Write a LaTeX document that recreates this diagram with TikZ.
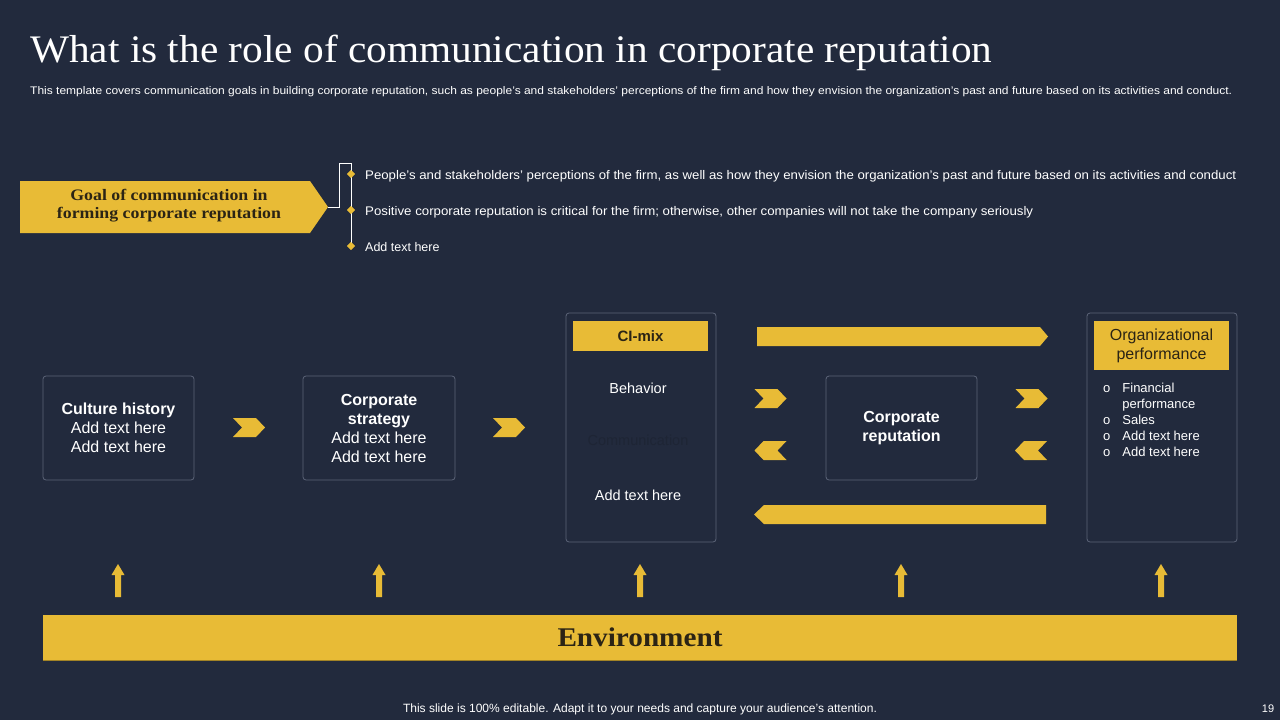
\documentclass[tikz,border=0pt]{standalone}
\usepackage{fontspec}
\usepackage{graphicx}
\setmainfont{Liberation Sans}
\newfontfamily\serifff{Liberation Serif}
\usetikzlibrary{shapes.geometric,calc}
\definecolor{bg}{HTML}{222A3D}
\definecolor{gold}{HTML}{E8BB36}
\definecolor{edge}{HTML}{5C6478}
\definecolor{ink}{HTML}{2B2415}
\definecolor{hid}{HTML}{1E2535}
\newcommand\fitto[2]{\resizebox{#1}{\height}{#2}}
\tikzset{
  box/.style={draw=edge, line width=0.8pt, rounded corners=3pt, fill=bg, align=center, text=white,
    font=\fontsize{16}{19}\selectfont, inner sep=0pt},
  headbox/.style={fill=gold, text=ink, align=center, inner sep=0pt},
  bul/.style={fill=gold, diamond, inner sep=0pt, minimum size=8pt},
  txt/.style={text=white, anchor=base west, inner sep=0pt, font=\fontsize{12.5}{15}\selectfont},
  plain/.style={text=white, inner sep=0pt, align=center},
  chevr/.pic={\fill[gold] (-16,-9.5) -- (7,-9.5) -- (16,0) -- (7,9.5) -- (-16,9.5) -- (-7,0) -- cycle;},
  chevl/.pic={\fill[gold] (16,-9.5) -- (-7,-9.5) -- (-16,0) -- (-7,9.5) -- (16,9.5) -- (7,0) -- cycle;},
  uparrow/.pic={\fill[gold] (-3,0) -- (-3,-22) -- (-6.5,-22) -- (0,-33) -- (6.5,-22) -- (3,-22) -- (3,0) -- cycle;},
}
\begin{document}
\begin{tikzpicture}[x=1pt,y=-1pt]
\fill[bg] (0,0) rectangle (1280,720);
\useasboundingbox (0,0) rectangle (1280,720);

% title
\node[anchor=base west, inner sep=0pt, text=white, font=\serifff\fontsize{39}{44}\selectfont] (title) at (30,62)
  {\fitto{962pt}{What is the role of communication in corporate reputation}};
\node[anchor=base west, inner sep=0pt, text=white, font=\fontsize{11}{13}\selectfont] (sub) at (30,94)
  {\fitto{1202pt}{This template covers communication goals in building corporate reputation, such as people's and stakeholders' perceptions of the firm and how they envision the organization's past and future based on its activities and conduct.}};

% goal arrow
\fill[gold] (20,181) -- (310,181) -- (328,207) -- (310,233) -- (20,233) -- cycle;
\coordinate (tip) at (328,207);
\node[text=ink, inner sep=0pt, font=\serifff\bfseries\fontsize{16}{18}\selectfont] (goal) at (169,206)
  {\fitto{224pt}{\begin{tabular}{@{}c@{}}Goal of communication in\\[0.5pt]forming corporate reputation\end{tabular}}};
\coordinate (bend1) at (339,207);
\coordinate (bend2) at (339,163);
\coordinate (top) at (351,163);
\node[bul] (b1) at (351,174) {};
\node[bul] (b2) at (351,210) {};
\node[bul] (b3) at (351,246) {};
\draw[white, line width=1pt] (tip) -- (bend1) -- (bend2) -- (top) -- (b3.center);
\node[bul] at (351,174) {};
\node[bul] at (351,210) {};
\node[bul] at (351,246) {};
\node[txt] (t1) at (365,179.5) {\fitto{871pt}{People's and stakeholders' perceptions of the firm, as well as how they envision the organization's past and future based on its activities and conduct}};
\node[txt] (t2) at (365,215.5) {\fitto{668pt}{Positive corporate reputation is critical for the firm; otherwise, other companies will not take the company seriously}};
\node[txt] (t3) at (365,251.5) {Add text here};

% main boxes
\node[box, minimum width=151pt, minimum height=104pt] (culture) at (118.5,428)
  {\textbf{Culture history}\\Add text here\\Add text here};
\node[box, minimum width=152pt, minimum height=104pt] (strategy) at (379,428)
  {\textbf{Corporate}\\\textbf{strategy}\\Add text here\\Add text here};
\node[box, minimum width=150pt, minimum height=229pt] (cimix) at (641,427.5) {};
\node[headbox, minimum width=135pt, minimum height=30pt, font=\bfseries\fontsize{15}{18}\selectfont] (cihead) at (640.5,336) {CI-mix};
\node[plain, font=\fontsize{14.5}{17}\selectfont] (behav) at (638,388) {Behavior};
\node[plain, text=hid, font=\fontsize{14.5}{17}\selectfont] (comm) at (638,440) {Communication};
\node[plain, font=\fontsize{14.5}{17}\selectfont] (addci) at (638,495) {Add text here};
\node[box, minimum width=151pt, minimum height=104pt] (rep) at (901.5,428)
  {\textbf{Corporate}\\\textbf{reputation}};
\node[box, minimum width=150pt, minimum height=229pt] (org) at (1162,427.5) {};
\node[headbox, minimum width=135pt, minimum height=49pt, font=\fontsize{16}{19}\selectfont] (orghead) at (1161.5,345.5) {Organizational\\performance};
\node[anchor=north west, inner sep=0pt, text=white, font=\fontsize{13}{16}\selectfont] (orglist) at (1103,381)
  {\begin{tabular}{@{}l@{\hspace{12pt}}l@{}}o & Financial\\ & performance\\ o & Sales\\ o & Add text here\\ o & Add text here\end{tabular}};

% chevrons
\pic at (249,427.5) {chevr};
\pic at (509,427.5) {chevr};
\pic at (770.5,398.5) {chevr};
\pic at (770.5,450.5) {chevl};
\pic at (1031.5,398.5) {chevr};
\pic at (1031,450.5) {chevl};

% long arrows
\fill[gold] (757,327) -- (1040,327) -- (1048,336.5) -- (1040,346) -- (757,346) -- cycle;
\fill[gold] (1046,505) -- (764,505) -- (754,514.5) -- (764,524) -- (1046,524) -- cycle;

% environment
\node[fill=gold, minimum width=1194pt, minimum height=45pt, inner sep=0pt, text=ink,
  font=\serifff\bfseries\fontsize{27}{30}\selectfont] (env) at (640,637.5) {\fitto{165pt}{Environment}};
\draw[color=gold!70!black, line width=1pt] (env.south west) -- (env.south east);
\foreach \x in {118,379,640,901,1161} \pic at (\x,597) {uparrow};

% footer
\node[anchor=base, inner sep=0pt, text=white, font=\fontsize{12}{14}\selectfont] (foot) at (640,712)
  {\fitto{474pt}{This slide is 100\% editable. Adapt it to your needs and capture your audience's attention.}};
\node[anchor=base, inner sep=0pt, text=white, font=\fontsize{11}{13}\selectfont] (page) at (1268,712) {19};
\end{tikzpicture}
\end{document}
